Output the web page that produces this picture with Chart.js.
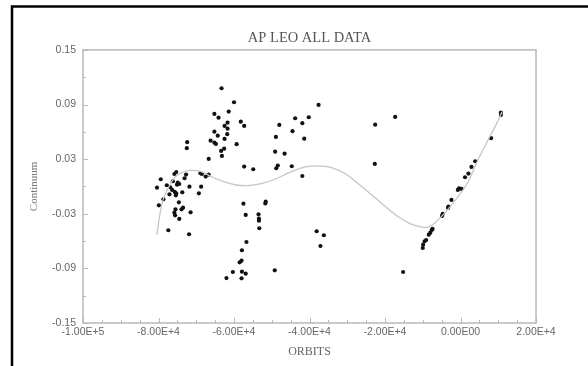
<!DOCTYPE html>
<html>
<head>
<meta charset="utf-8">
<script src="https://cdn.jsdelivr.net/npm/chart.js@4"></script>
<style>
  html, body { margin: 0; padding: 0; background: #fff; }
</style>
</head>
<body>
<canvas id="chart-canvas" width="588" height="366"></canvas>
<script>
const orbits = [
  -80400, -79400, -79900, -78700, -77800, -77400, -77100, -76900, -76400, -76200,
  -75800, -75300, -75700, -75300, -75400, -75100, -74900, -74500, -74600, -75500,
  -75800, -75600, -74500, -73900, -73500, -73700, -73100, -72700, -72500, -72400,
  -71900, -71800, -71500, -69300, -68900, -68500, -68700, -67500, -66700, -66700,
  -66200, -65200, -64800, -65200, -64300, -65200, -64100, -63300, -63400, -63200,
  -62600, -62500, -61800, -62500, -61700, -61700, -61400, -60000, -59300, -58200,
  -57300, -57300, -54900,
  -57500, -56900, -56700, -57900, -58000, -58500, -60300, -57900, -56900, -62000,
  -58000, -51600, -51700, -53500, -53400, -53400, -53300, -49200,
  -48000, -48900, -49100, -46600, -48400, -48800, -43800, -40200, -41900, -44500,
  -41400, -44700, -41900, -37600, -38100, -36200, -37100, -22600, -22700, -17300,
  -15200,
  -10000, -9900, -9500, -9100, -8400, -8000, -7600, -7400, -4900, -4700,
  -3300, -3200, -2400, -700, -400, 300, 1200, 2100, 2900, 3900,
  8100, 10700, 10700
]
const residuals = [
  -0.0013, 0.0079, -0.0207, -0.0141, 0.0013, -0.0481, -0.0086, -0.0009, -0.0038, 0.0057,
  0.0137, 0.0159, -0.0060, -0.0075, -0.0097, 0.0020, 0.0042, 0.0027, -0.0174, -0.0251,
  -0.0288, -0.0317, -0.0357, -0.0251, -0.0233, -0.0064, 0.0090, 0.0130, 0.0420, 0.0486,
  -0.0525, -0.0002, -0.0284, -0.0075, 0.0145, 0.0137, -0.0002, 0.0108, 0.0130, 0.0302,
  0.0503, 0.0481, 0.0467, 0.0602, 0.0558, 0.0797, 0.0756, 0.1079, 0.0390, 0.0335,
  0.0415, 0.0522, 0.0574, 0.0665, 0.0635, 0.0701, 0.0822, 0.0925, 0.0464, 0.0712,
  0.0665, 0.0218, 0.0189,
  -0.0189, -0.0313, -0.0610, -0.0701, -0.0815, -0.0833, -0.0940, -0.0936, -0.0958, -0.1006,
  -0.1009, -0.0167, -0.0187, -0.0306, -0.0352, -0.0376, -0.0459, -0.0921,
  0.0676, 0.0544, 0.0382, 0.0360, 0.0229, 0.0200, 0.0749, 0.0760, 0.0695, 0.0607,
  0.0525, 0.0222, 0.0115, 0.0896, -0.0492, -0.0536, -0.0654, 0.0679, 0.0247, 0.0764,
  -0.0940,
  -0.0676, -0.0640, -0.0602, -0.0588, -0.0530, -0.0508, -0.0478, -0.0467, -0.0324, -0.0302,
  -0.0236, -0.0222, -0.0148, -0.0038, -0.0020, -0.0027, 0.0101, 0.0141, 0.0214, 0.0277,
  0.0530, 0.0811, 0.0786
]

// fitted curve
const fitOrbits = [
  -80400, -79800, -78800, -77400, -75600, -73500, -71600, -68900, -66300, -63600,
  -59400, -55700, -52500, -49000, -45000, -41100, -37600, -34400, -30400, -27300,
  -23800, -20400, -16600, -13200, -10500, -8400, -6500, -3900, -700, 2000,
  4600, 7300, 9400, 11000
]
const fitValues = [
  -0.0533, -0.0346, -0.0148, -0.0016, 0.0104, 0.0159, 0.0176, 0.0165, 0.0115, 0.0066,
  0.0016, 0.0011, 0.0033, 0.0082, 0.0159, 0.0214, 0.0225, 0.0209, 0.0137, 0.0038,
  -0.0082, -0.0203, -0.0330, -0.0412, -0.0445, -0.0445, -0.0390, -0.0280, -0.0115, 0.0049,
  0.0291, 0.0511, 0.0676, 0.0819
]

const xTickValues = [-100000, -80000, -60000, -40000, -20000, 0, 20000]
const yTickValues = [-0.15, -0.09, -0.03, 0.03, 0.09, 0.15]

function sciLabel(v) {
  if (v === 0) return '0.00E00'
  const e = Math.floor(Math.log10(Math.abs(v)))
  return (v / Math.pow(10, e)).toFixed(2) + 'E+' + e
}

const axisGrey = '#b8b8b8'

const pagePlugin = {
  id: 'page',
  beforeDraw(chart) {
    const ctx = chart.ctx
    ctx.save()
    ctx.fillStyle = '#fff'
    ctx.fillRect(0, 0, chart.width, chart.height)
    ctx.strokeStyle = '#000'
    ctx.lineWidth = 2.5
    ctx.beginPath()
    ctx.moveTo(12, chart.height)
    ctx.lineTo(12, 6.5)
    ctx.lineTo(chart.width, 6.5)
    ctx.stroke()
    ctx.restore()
  },
  beforeDatasetsDraw(chart) {
    const ctx = chart.ctx
    const a = chart.chartArea
    const xs = chart.scales.x
    const ys = chart.scales.y
    ctx.save()
    ctx.strokeStyle = axisGrey
    ctx.lineWidth = 1.5
    ctx.strokeRect(a.left, a.top, a.right - a.left, a.bottom - a.top)
    ctx.lineWidth = 1
    ctx.beginPath()
    for (let v = xs.min; v <= xs.max; v += 5000) {
      const px = Math.round(xs.getPixelForValue(v)) + 0.5
      const len = v % 20000 === 0 ? 5 : 3
      ctx.moveTo(px, a.bottom)
      ctx.lineTo(px, a.bottom - len)
    }
    for (let i = 0; i <= 10; i++) {
      const v = ys.min + i * 0.03
      const py = Math.round(ys.getPixelForValue(v)) + 0.5
      const len = i % 2 === 0 ? 5 : 3
      ctx.moveTo(a.left, py)
      ctx.lineTo(a.left + len, py)
    }
    ctx.stroke()
    ctx.restore()
  }
}

const points = orbits.map((x, i) => ({ x: x, y: residuals[i] }))
const fit = fitOrbits.map((x, i) => ({ x: x, y: fitValues[i] }))

const ctx = document.querySelector('#chart-canvas')
new Chart(ctx, {
  type: 'scatter',
  data: {
    datasets: [
      {
        label: 'fit',
        data: fit,
        showLine: true,
        borderColor: '#c6c6c6',
        borderWidth: 1.3,
        pointRadius: 0,
        tension: 0.4,
        fill: false
      },
      {
        label: 'O-C',
        data: points,
        pointRadius: 2.1,
        pointBackgroundColor: '#111',
        pointBorderWidth: 0
      }
    ]
  },
  options: {
    responsive: false,
    animation: false,
    devicePixelRatio: 1,
    layout: { padding: { top: 0, right: 52, bottom: 0, left: 0 } },
    plugins: {
      legend: { display: false },
      tooltip: { enabled: false },
      title: {
        display: true,
        text: 'AP LEO ALL DATA',
        fullSize: false,
        color: '#555',
        font: { family: 'Liberation Serif', size: 14.5, weight: 'normal' },
        padding: { top: 29, bottom: 3.5 }
      }
    },
    scales: {
      x: {
        type: 'linear',
        min: -100000,
        max: 20000,
        afterFit(scale) { scale.height = 43 },
        afterBuildTicks(scale) { scale.ticks = xTickValues.map(v => ({ value: v })) },
        grid: { display: false, drawTicks: false },
        border: { display: false },
        ticks: {
          autoSkip: false,
          maxRotation: 0,
          padding: 3,
          color: '#666',
          font: { family: 'Liberation Sans', size: 10.5 },
          callback: v => sciLabel(v)
        },
        title: {
          display: true,
          text: 'ORBITS',
          color: '#666',
          font: { family: 'Liberation Serif', size: 12 },
          padding: { top: 0, bottom: 7 }
        }
      },
      y: {
        type: 'linear',
        min: -0.15,
        max: 0.15,
        afterFit(scale) { scale.width = 83 },
        afterBuildTicks(scale) { scale.ticks = yTickValues.map(v => ({ value: v })) },
        grid: { display: false, drawTicks: false },
        border: { display: false },
        ticks: {
          padding: 7,
          color: '#666',
          font: { family: 'Liberation Sans', size: 10.5 },
          callback: v => v.toFixed(2)
        },
        title: {
          display: true,
          text: 'Continuum',
          color: '#777',
          font: { family: 'Liberation Serif', size: 11 },
          padding: { top: 28, bottom: 0 }
        }
      }
    }
  },
  plugins: [pagePlugin]
})
</script>
</body>
</html>
